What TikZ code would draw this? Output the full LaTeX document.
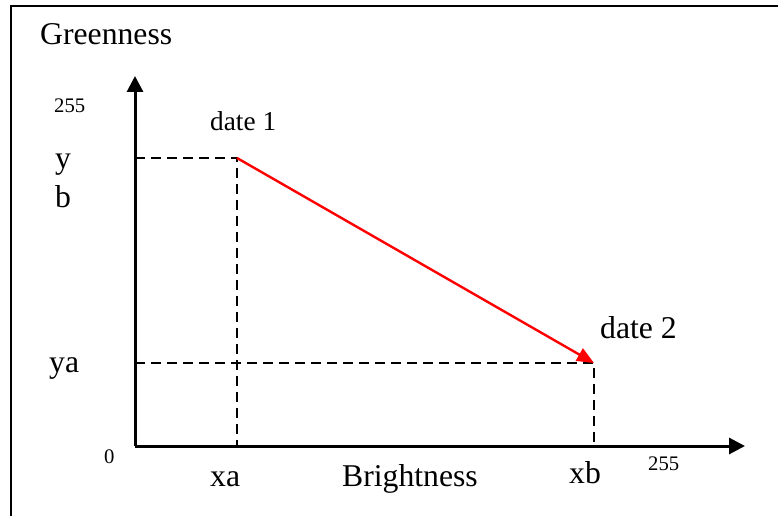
\documentclass[tikz,border=0pt]{standalone}
\usepackage{fontspec}
\setmainfont{Liberation Serif}
\usepackage{xcolor}
\usepackage{tikz}
\usetikzlibrary{arrows.meta, positioning, calc}

\begin{document}
\begin{tikzpicture}[
        x=1pt, y=-1pt,
        lbl/.style={anchor=base west, inner sep=0pt, font=\fontsize{31.7}{38}\selectfont},
        tick/.style={anchor=base west, inner sep=0pt, font=\fontsize{20.7}{25}\selectfont},
        axis/.style={-{Triangle[length=16pt, width=16pt]}, line width=3pt},
        guide/.style={dash pattern=on 10pt off 6pt, line width=2.4pt},
        move/.style={-{Triangle[length=17pt, width=14pt]}, red, line width=2.4pt}
    ]
        \useasboundingbox (0,0) rectangle (778,516);

        % frame (only top and left edges show)
        \draw[line width=2.6pt] (11,516) -- (11,6) -- (778,6);

        % points
        \coordinate (origin) at (135,446);
        \coordinate (ytop) at (135,76);
        \coordinate (xend) at (745,446);
        \coordinate (date1) at (237,158);
        \coordinate (date2) at (594,363);

        % axes
        \draw[axis] (origin) -- (ytop);
        \draw[axis] (origin) -- (xend);

        % dashed guides
        \draw[guide] (origin |- date1) -- (date1) -- (date1 |- origin);
        \draw[guide] (origin |- date2) -- (date2) -- (date2 |- origin);

        % change between the two dates
        \draw[move] (date1) -- (date2);

        % labels
        \node[lbl] (green) at (40,45) {Greenness};
        \node[tick] (ymax) at (54,113) {255};
        \node[lbl, font=\fontsize{27.3}{33}\selectfont] (d1lbl) at (210,131) {date 1};
        \node[lbl] (yb1) at (55,168) {y};
        \node[lbl] (yb2) at (55,207) {b};
        \node[lbl] (ya) at (49,372) {ya};
        \node[lbl] (d2lbl) at (600,338) {date 2};
        \node[tick] (zero) at (104,463) {0};
        \node[lbl] (xa) at (210,486) {xa};
        \node[lbl] (bright) at (342,486) {Brightness};
        \node[lbl] (xb) at (569,483) {xb};
        \node[tick] (xmax) at (648,470) {255};
    \end{tikzpicture}
\end{document}
